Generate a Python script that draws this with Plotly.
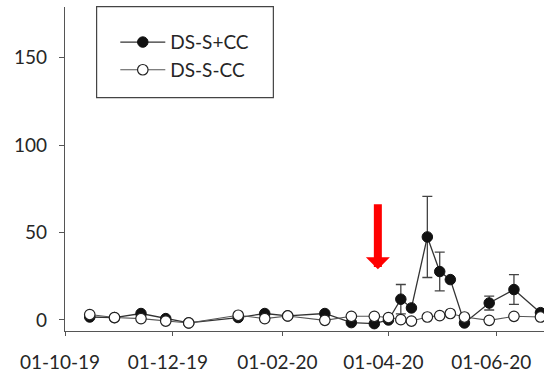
import plotly.graph_objects as go

# ---- data ----
dates_cc = ['2019-10-15', '2019-10-29', '2019-11-13', '2019-11-27', '2019-12-10',
            '2020-01-07', '2020-01-22', '2020-02-04', '2020-02-25', '2020-03-11',
            '2020-03-24', '2020-04-01', '2020-04-08', '2020-04-14', '2020-04-23',
            '2020-04-30', '2020-05-06', '2020-05-14', '2020-05-28', '2020-06-11',
            '2020-06-26']
with_cc = [1.7, 1.4, 3.7, 0.8, -1.7,
           1.4, 3.7, 2.3, 3.7, -1.5,
           -2.1, 0.0, 11.9, 6.9, 47.5,
           27.7, 23.1, -1.7, 9.7, 17.4,
           4.2]
with_cc_err = [0, 0, 0, 0, 0,
               0, 0, 0, 0, 0,
               0, 0, 8.4, 0, 23.2,
               11.1, 0, 0, 4.0, 8.5,
               0]
dates_nocc = dates_cc
without_cc = [3.1, 1.4, 0.8, -0.6, -1.7,
              2.7, 0.8, 2.3, -0.2, 2.1,
              2.1, 1.4, 0.2, -0.6, 1.7,
              2.5, 3.7, 1.7, -0.2, 2.1,
              1.7]

tick_vals = ['2019-10-01', '2019-12-01', '2020-02-01', '2020-04-01', '2020-06-01']
tick_text = ['01-10-19', '01-12-19', '01-02-20', '01-04-20', '01-06-20']
y_ticks = [0, 50, 100, 150]

arrow_date = '2020-03-26'
arrow_tip, arrow_tail = 29, 67

FONT = 'Lato'
TXT = '#262626'

fig = go.Figure()
fig.add_trace(go.Scatter(
    x=dates_cc, y=with_cc, name='DS-S+CC', mode='lines+markers',
    line=dict(color='#333333', width=1.3),
    marker=dict(size=10.5, color='#111111', line=dict(color='#111111', width=1)),
    error_y=dict(type='data', array=with_cc_err, visible=True,
                 color='#444444', thickness=1.3, width=5),
    legendgroup='a'))
fig.add_trace(go.Scatter(
    x=dates_nocc, y=without_cc, name='DS-S-CC', mode='lines+markers',
    line=dict(color='#555555', width=1.1),
    marker=dict(size=10.5, color='white', line=dict(color='#222222', width=1.2)),
    legendgroup='b'))

fig.add_annotation(x=arrow_date, y=arrow_tip, ax=arrow_date, ay=arrow_tail,
                   xref='x', yref='y', axref='x', ayref='y',
                   showarrow=True, arrowhead=1, arrowsize=0.5, arrowwidth=8,
                   arrowcolor='#ff0000', standoff=0, text='')

# legend frame
fig.add_shape(type='rect', xref='paper', yref='paper',
              x0=0.066, x1=0.435, y0=0.720, y1=1.001,
              line=dict(color='#444444', width=1.2), fillcolor='rgba(0,0,0,0)')

fig.update_layout(
    width=544, height=373,
    margin=dict(l=65, r=0, t=7, b=42),
    paper_bgcolor='white', plot_bgcolor='white',
    font=dict(family=FONT, size=19, color=TXT),
    showlegend=True,
    legend=dict(x=0.105, y=0.95, xanchor='left', yanchor='top',
                bgcolor='rgba(0,0,0,0)', borderwidth=0,
                font=dict(family=FONT, size=19, color=TXT),
                itemwidth=45, tracegroupgap=0, traceorder='grouped'),
)
fig.update_xaxes(
    type='date', range=['2019-10-01', '2020-06-28'],
    tickvals=tick_vals, ticktext=tick_text,
    showline=True, linecolor='#555555', linewidth=1.2,
    ticks='outside', ticklen=4, tickcolor='#555555', tickwidth=1.2,
    showgrid=False, zeroline=False, ticklabelshift=-5, ticklabelstandoff=10,
    tickfont=dict(family=FONT, size=19, color=TXT))
fig.update_yaxes(
    range=[-6.3, 179], tickvals=y_ticks,
    showline=True, linecolor='#555555', linewidth=1.2,
    ticks='outside', ticklen=5, tickcolor='#555555', tickwidth=1.2,
    showgrid=False, zeroline=False, ticklabelstandoff=8,
    tickfont=dict(family=FONT, size=19, color=TXT))

fig.write_html('out.html')
